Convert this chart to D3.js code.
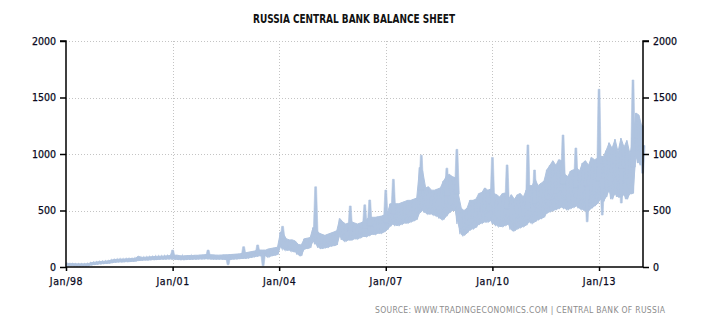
<!DOCTYPE html>
<html>
<head>
<meta charset="utf-8">
<script src="https://cdn.jsdelivr.net/npm/d3@7"></script>
<style>
  html, body { margin: 0; padding: 0; background: #fff; }
  svg { display: block; }
</style>
</head>
<body>
<svg id="chart" width="710" height="325"></svg>
<script>
// Typical monthly range of the balance sheet (bn RUB), Jan 1998 onwards
const lowVals = [
  12, 12, 12, 10, 10, 10, 10, 10, 18, 22, 25, 28,             // 1998
  30, 32, 34, 38, 42, 44, 46, 46, 48, 48, 50, 52,             // 1999
  58, 60, 62, 62, 64, 66, 66, 68, 70, 70, 72, 72,             // 2000
  70, 68, 66, 66, 66, 68, 68, 70, 70, 72, 72, 74,             // 2001
  72, 70, 70, 70, 70, 68, 68, 68, 70, 72, 74, 76,             // 2002
  78, 80, 85, 90, 95, 100, 100, 100, 90, 100, 105, 110,       // 2003
  180, 160, 150, 150, 140, 135, 110, 100, 160, 165, 170, 230, // 2004
  200, 170, 165, 170, 175, 185, 190, 195, 280, 240, 230, 240, // 2005
  240, 250, 250, 260, 270, 270, 280, 290, 290, 300, 300, 310, // 2006
  330, 360, 380, 370, 370, 380, 390, 390, 400, 410, 420, 480, // 2007
  500, 480, 470, 470, 460, 450, 430, 420, 450, 480, 500, 500, // 2008
  380, 290, 280, 300, 330, 340, 350, 380, 390, 400, 400, 410, // 2009
  380, 370, 360, 360, 370, 380, 330, 320, 340, 350, 360, 370, // 2010
  400, 390, 400, 420, 430, 440, 480, 490, 500, 510, 520, 530, // 2011
  520, 510, 520, 530, 540, 520, 510, 500, 500, 520, 540, 560, // 2012
  600, 580, 620, 680, 600, 650, 620, 620, 640, 600, 650, 650, // 2013
  980, 920, 900                                               // 2014
];
const highVals = [
  32, 30, 30, 28, 28, 28, 28, 30, 38, 42, 45, 48,
  50, 52, 55, 62, 66, 68, 70, 70, 72, 74, 75, 78,
  95, 85, 86, 88, 90, 92, 94, 95, 96, 98, 100, 102,
  104, 105, 100, 98, 100, 102, 100, 104, 104, 106, 108, 110,
  108, 108, 106, 105, 106, 108, 108, 110, 112, 114, 116, 120,
  125, 130, 135, 140, 145, 150, 150, 150, 160, 165, 170, 175,
  310, 290, 250, 240, 240, 230, 200, 195, 250, 255, 260, 350,
  330, 300, 290, 280, 290, 300, 310, 320, 430, 400, 380, 390,
  400, 390, 380, 390, 400, 420, 440, 440, 440, 445, 450, 460,
  470, 560, 560, 560, 560, 570, 580, 590, 590, 600, 610, 880,
  850, 700, 710, 680, 680, 690, 700, 760, 800, 820, 800, 790,
  650, 520, 500, 520, 590, 590, 600, 650, 660, 700, 680, 690,
  650, 640, 620, 650, 655, 600, 640, 600, 640, 650, 620, 680,
  720, 720, 780, 720, 740, 760, 860, 900, 940, 900, 950, 940,
  820, 800, 850, 860, 880, 850, 920, 940, 900, 970, 950, 960,
  980, 976, 1030, 1100, 1050, 1130, 1020, 1140, 1060, 1120, 1000, 1120,
  1363, 1345, 1250
];
// Isolated one-day jumps and drops
const spikeDates = [
  "2001-01-01", "2002-01-01", "2002-07-25", "2003-01-01", "2003-05-25", "2003-07-20",
  "2004-02-05", "2005-01-10", "2006-01-01", "2006-05-30", "2006-07-20", "2007-01-01",
  "2007-03-20", "2008-01-01", "2008-09-20", "2009-01-01", "2010-01-01", "2010-06-01",
  "2011-01-01", "2011-03-10", "2011-12-28", "2012-05-08", "2012-09-01", "2013-01-01",
  "2013-02-03", "2013-08-18", "2013-12-16", "2014-03-25"
];
const spikeVals = [
  150, 150, 20, 180, 195, 10,
  360, 710, 540, 550, 593, 681,
  776, 990, 875, 1041, 970, 903,
  1080, 858, 1168, 1053, 400, 1573,
  460, 566, 1655, 830
];
const yTicks = [0, 500, 1000, 1500, 2000];
const xTickYears = [1998, 2001, 2004, 2007, 2010, 2013];

const titleText = "RUSSIA CENTRAL BANK BALANCE SHEET";
const sourceText = "SOURCE: WWW.TRADINGECONOMICS.COM | CENTRAL BANK OF RUSSIA";

const svg = d3.select("#chart");
const plotLeft = 66, plotRight = 643, plotTop = 41, plotBottom = 267;
const lineColor = "#afc3df";
const fontFam = "'DejaVu Sans Condensed', 'DejaVu Sans', sans-serif";

const startDate = new Date(1998, 0, 1), endDate = new Date(2014, 2, 29);
const x = d3.scaleTime().domain([startDate, endDate]).range([plotLeft, plotRight]);
const y = d3.scaleLinear().domain([0, 2000]).range([plotBottom, plotTop]);
const parseDay = d3.timeParse("%Y-%m-%d");

// grid
const grid = svg.append("g");
grid.selectAll("line.h").data(yTicks.filter(v => v > 0)).join("line")
  .attr("x1", plotLeft).attr("x2", plotRight)
  .attr("y1", d => Math.round(y(d)) + 0.5).attr("y2", d => Math.round(y(d)) + 0.5)
  .attr("stroke", "#c4c4c4").attr("stroke-dasharray", "1,2");
grid.selectAll("line.v").data(xTickYears.filter(v => v > 1998)).join("line")
  .attr("x1", d => Math.round(x(new Date(d, 0, 1))) + 0.5)
  .attr("x2", d => Math.round(x(new Date(d, 0, 1))) + 0.5)
  .attr("y1", plotTop).attr("y2", plotBottom)
  .attr("stroke", "#c4c4c4").attr("stroke-dasharray", "1,2");

// band: low..high of each month, placed mid-month
const months = lowVals.map((lo, i) => ({
  date: d3.timeDay.offset(d3.timeMonth.offset(startDate, i), 14), lo, hi: highVals[i]
}));
const first = months[0], last = months[months.length - 1];
const bandData = [{ date: startDate, lo: first.lo, hi: first.hi }]
  .concat(months, [{ date: endDate, lo: last.lo, hi: last.hi }]);
const band = d3.area()
  .x(d => x(d.date)).y0(d => y(d.lo)).y1(d => y(d.hi));
svg.append("path").datum(bandData)
  .attr("d", band)
  .attr("fill", lineColor)
  .attr("stroke", lineColor)
  .attr("stroke-width", 1);

// zig-zag through the same ranges for the ragged daily texture
const zig = [];
lowVals.forEach((lo, i) => {
  const m = d3.timeMonth.offset(startDate, i);
  zig.push([m, lo], [d3.timeDay.offset(m, 10), highVals[i]], [d3.timeDay.offset(m, 20), lo]);
});
svg.append("path").datum(zig)
  .attr("d", d3.line().x(d => x(d[0])).y(d => y(d[1])))
  .attr("fill", "none").attr("stroke", lineColor).attr("stroke-width", 1.2);

// spikes rise from the middle of their month's band
const bisect = d3.bisector(d => d.date).left;
const spikes = spikeDates.map((s, i) => {
  const dt = parseDay(s);
  const m = months[Math.max(0, Math.min(months.length - 1, bisect(months, dt) - 1))];
  return { date: dt, val: spikeVals[i], base: (m.lo + m.hi) / 2 };
});
svg.append("g").selectAll("path").data(spikes).join("path")
  .attr("d", d => {
    const cx = x(d.date), yb = y(d.base), yv = y(d.val);
    return `M${cx - 2.4},${yb}L${cx - 0.9},${yv}L${cx + 0.9},${yv}L${cx + 2.4},${yb}Z`;
  })
  .attr("fill", lineColor)
  .attr("stroke", lineColor).attr("stroke-width", 0.6);

// axes
const yLeft = d3.axisLeft(y).tickValues(yTicks).tickFormat(d3.format("d")).tickSize(6).tickPadding(4);
const yRight = d3.axisRight(y).tickValues(yTicks).tickFormat(d3.format("d")).tickSize(6).tickPadding(4);
const xAxis = d3.axisBottom(x)
  .tickValues(xTickYears.map(v => new Date(v, 0, 1)))
  .tickFormat(d3.timeFormat("Jan/%y"))
  .tickSize(4).tickPadding(7);

function styleAxis(g) {
  g.select(".domain").attr("stroke", "#000").attr("stroke-width", 1.5);
  g.selectAll(".tick line").attr("stroke", "#000").attr("stroke-width", 1.5);
  g.selectAll(".tick text").attr("fill", "#0a0a1e")
    .style("font-family", fontFam).style("font-size", "10.5px")
    .style("stroke", "#0a0a1e").style("stroke-width", "0.25px");
}
svg.append("g").attr("transform", `translate(${plotLeft},0)`).call(yLeft)
  .call(g => g.select(".domain").attr("d", `M-6,${plotTop}H0V${plotBottom}`)).call(styleAxis);
svg.append("g").attr("transform", `translate(${plotRight},0)`).call(yRight)
  .call(g => g.select(".domain").attr("d", `M6,${plotTop}H0V${plotBottom}`)).call(styleAxis);
svg.append("g").attr("transform", `translate(0,${plotBottom})`).call(xAxis)
  .call(g => g.select(".domain").attr("d", `M${plotLeft},0H${plotRight}`)).call(styleAxis)
  .call(g => g.selectAll(".tick text").style("letter-spacing", "0.6px"));

// title
svg.append("text")
  .attr("x", 354).attr("y", 23)
  .attr("text-anchor", "middle")
  .attr("textLength", 202).attr("lengthAdjust", "spacingAndGlyphs")
  .style("font-family", fontFam).style("font-weight", "bold").style("font-size", "12.5px")
  .attr("fill", "#111")
  .text(titleText);

// source line
svg.append("text")
  .attr("x", 665).attr("y", 313)
  .attr("text-anchor", "end")
  .attr("textLength", 290).attr("lengthAdjust", "spacing")
  .style("font-family", fontFam).style("font-size", "8.5px")
  .attr("fill", "#8c8c8c")
  .text(sourceText);
</script>
</body>
</html>
